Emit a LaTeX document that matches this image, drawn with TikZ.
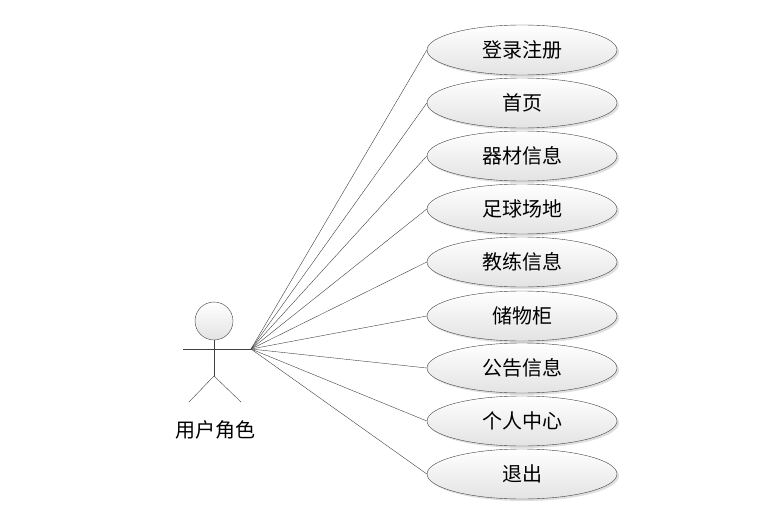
\documentclass[tikz,border=0pt]{standalone}
\usepackage{fontspec}
\newfontfamily\cjk{Noto Sans CJK SC}
\usepackage{tikz}
\usetikzlibrary{shapes.geometric,shadows}
\definecolor{edgegray}{HTML}{404040}
\definecolor{fillgray}{HTML}{E3E3E3}
\tikzset{
  usecase/.style={ellipse,draw=edgegray,thin,minimum width=190pt,minimum height=50pt,
    inner sep=0pt,top color=white,bottom color=fillgray,
    drop shadow={shadow xshift=2pt,shadow yshift=-2pt,opacity=0.25},
    font=\cjk\fontsize{20}{22}\selectfont},
  limb/.style={draw=edgegray,thin},
  assoc/.style={draw=edgegray,thin}
}

\begin{document}
\begin{tikzpicture}[x=1pt,y=-1pt]
  \useasboundingbox (0,0) rectangle (775,511);
  % Actor
  \node[circle,draw=edgegray,thin,minimum size=38pt,inner sep=0pt,
    top color=white,bottom color=fillgray] (head) at (214,321) {};
  \coordinate (hand) at (251,349);
  \coordinate (armL) at (183,349);
  \coordinate (hip) at (214,376);
  \draw[limb] (head.south) -- (hip);
  \draw[limb] (armL) -- (hand);
  \draw[limb] (189,402) -- (hip) -- (241,402);
  \node[font=\cjk\fontsize{20}{22}\selectfont] (actor) at (215,430) {用户角色};
  % Use cases
  \foreach \y/\name/\txt in {50/login/登录注册,103/home/首页,156/equip/器材信息,
      209/field/足球场地,262/coach/教练信息,316/locker/储物柜,
      368/notice/公告信息,421/center/个人中心,474/logout/退出} {
    \node[usecase] (\name) at (522,\y) {\txt};
    \draw[assoc] (hand) -- (\name.west);
  }
\end{tikzpicture}
\end{document}
